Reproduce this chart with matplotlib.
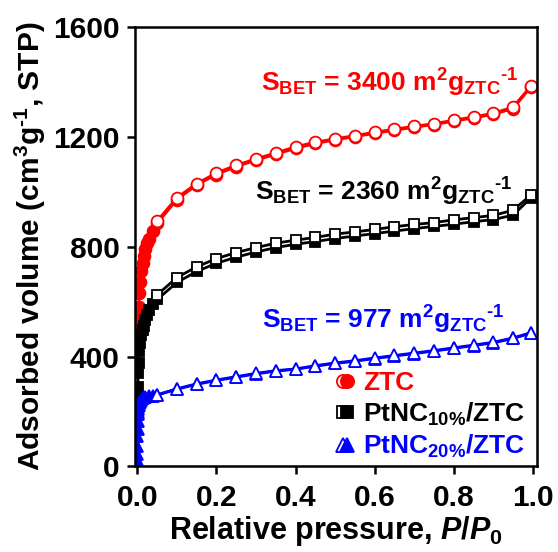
import numpy as np
import matplotlib
matplotlib.use('Agg')
import matplotlib.pyplot as plt
from matplotlib.lines import Line2D
from matplotlib.legend_handler import HandlerTuple

plt.rcParams['font.family'] = ['Liberation Sans', 'DejaVu Sans']
plt.rcParams['font.weight'] = 'bold'
plt.rcParams['font.size'] = 18
plt.rcParams['mathtext.fontset'] = 'custom'
plt.rcParams['mathtext.rm'] = 'Liberation Sans:bold'
plt.rcParams['mathtext.bf'] = 'Liberation Sans:bold'
plt.rcParams['mathtext.it'] = 'Liberation Sans:italic:bold'
plt.rcParams['mathtext.default'] = 'rm'

# N2 isotherms at 77 K (P/P0, cm3/g STP)
ztc_ads_p = [0.0005, 0.001, 0.002, 0.003, 0.005, 0.007, 0.01, 0.013, 0.016, 0.02,
             0.025, 0.03, 0.04, 0.05, 0.1, 0.15, 0.2, 0.25, 0.3, 0.35, 0.4, 0.45,
             0.5, 0.55, 0.6, 0.65, 0.7, 0.75, 0.8, 0.85, 0.9, 0.95, 0.995]
ztc_ads_v = [470, 500, 540, 580, 630, 670, 710, 740, 765, 790,
             812, 830, 858, 885, 972, 1025, 1063, 1092, 1115, 1137, 1158, 1176,
             1189, 1201, 1213, 1224, 1235, 1245, 1257, 1269, 1282, 1303, 1382]
ztc_des_p = [0.05, 0.1, 0.15, 0.2, 0.25, 0.3, 0.35, 0.4, 0.45, 0.5, 0.55, 0.6,
             0.65, 0.7, 0.75, 0.8, 0.85, 0.9, 0.95, 0.995]
ztc_des_v = [894, 979, 1030, 1069, 1097, 1120, 1142, 1164, 1181, 1193, 1205, 1217,
             1228, 1239, 1248, 1261, 1273, 1286, 1309, 1385]

pt10_ads_p = ztc_ads_p
pt10_ads_v = [250, 290, 340, 375, 420, 450, 478, 498, 512, 532,
              553, 568, 590, 608, 670, 710, 740, 762, 781, 797, 809, 819,
              830, 839, 848, 857, 866, 874, 882, 891, 899, 915, 978]
pt10_des_p = ztc_des_p
pt10_des_v = [625, 688, 727, 757, 779, 797, 813, 824, 834, 846, 854, 863,
              873, 881, 888, 898, 906, 914, 933, 988]

pt20_ads_p = [0.00001, 0.00003, 0.00005, 0.0001, 0.0002, 0.0003, 0.0005, 0.0008,
              0.001, 0.0015, 0.002, 0.003, 0.005, 0.007, 0.01, 0.015, 0.02, 0.03,
              0.04, 0.05, 0.1, 0.15, 0.2, 0.25, 0.3, 0.35, 0.4, 0.45, 0.5, 0.55,
              0.6, 0.65, 0.7, 0.75, 0.8, 0.85, 0.9, 0.95, 0.995]
pt20_ads_v = [5, 25, 45, 75, 110, 135, 165, 190, 200, 210, 216, 222, 230, 236,
              242, 248, 252, 256, 258, 260, 281, 299, 313, 325, 337, 347, 354,
              365, 375, 383, 393, 402, 411, 420, 430, 440, 450, 466, 485]
pt20_des_p = ztc_des_p
pt20_des_v = [261, 283, 301, 315, 327, 339, 349, 355, 367, 377, 385, 395,
              404, 413, 422, 432, 442, 452, 468, 487]

labels = ['ZTC', r'PtNC$_{10\%}$/ZTC', r'PtNC$_{20\%}$/ZTC']
colors = ['#ff0000', '#000000', '#0000ff']
markers = ['o', 's', '^']
msizes = [8.5, 7.5, 8.5]
bet_text = ['S$_{BET}$ = 3400 m$^{2}$g$_{ZTC}{}^{\u20101}$',
            'S$_{BET}$ = 2360 m$^{2}$g$_{ZTC}{}^{\u20101}$',
            'S$_{BET}$ = 977 m$^{2}$g$_{ZTC}{}^{\u20101}$']
bet_pos = [(0.962, 1364), (0.949, 967), (0.929, 502)]

series = [
    (ztc_ads_p, ztc_ads_v, ztc_des_p, ztc_des_v),
    (pt10_ads_p, pt10_ads_v, pt10_des_p, pt10_des_v),
    (pt20_ads_p, pt20_ads_v, pt20_des_p, pt20_des_v),
]

fig = plt.figure(figsize=(5.58, 5.52), dpi=100)
ax = fig.add_axes([0.242, 0.155, 0.72, 0.796])

handles = []
for (ap, av, dp, dv), c, m, ms in zip(series, colors, markers, msizes):
    # adsorption branch (filled) under desorption branch (open)
    ax.plot(ap, av, color=c, marker=m, ms=ms, mfc=c, mec=c, mew=1.3, lw=2.0)
    ax.plot(dp, dv, color=c, marker=m, ms=ms, mfc='white', mec=c, mew=1.3, lw=2.0)
    h_open = Line2D([], [], ls='none', marker=m, ms=ms + 1, mfc='white', mec=c, mew=1.3)
    h_fill = Line2D([], [], ls='none', marker=m, ms=ms + 1, mfc=c, mec=c, mew=1.3)
    handles.append((h_open, h_fill))

for txt, (tx, ty), c in zip(bet_text, bet_pos, colors):
    ax.text(tx, ty, txt, color=c, ha='right', va='baseline', fontsize=19, fontweight='bold')

leg = ax.legend(handles, labels, handler_map={tuple: HandlerTuple(ndivide=None, pad=-0.45)},
                loc='lower left', bbox_to_anchor=(0.47, -0.01), frameon=False,
                handlelength=0.8, handletextpad=0.3, labelspacing=0.2, borderaxespad=0.0,
                prop={'weight': 'bold', 'size': 19})
for t, c in zip(leg.get_texts(), colors):
    t.set_color(c)

ax.set_xlim(-0.006, 1.01)
ax.set_ylim(0, 1600)
ax.set_xticks([0.0, 0.2, 0.4, 0.6, 0.8, 1.0])
ax.set_yticks([0, 400, 800, 1200, 1600])
ax.set_xlabel(r'Relative pressure, $\mathit{P/P_0}$', fontsize=22, fontweight='bold', labelpad=1)
ax.set_ylabel('Adsorbed volume (cm$^3$g$^{\u20101}$, STP)', fontsize=21.5, fontweight='bold', labelpad=4)

for s in ax.spines.values():
    s.set_linewidth(1.8)
ax.tick_params(direction='out', length=6, width=1.8, labelsize=21.5, pad=5)
ax.tick_params(axis='x', pad=7)

fig.savefig('out.png', dpi=100)
